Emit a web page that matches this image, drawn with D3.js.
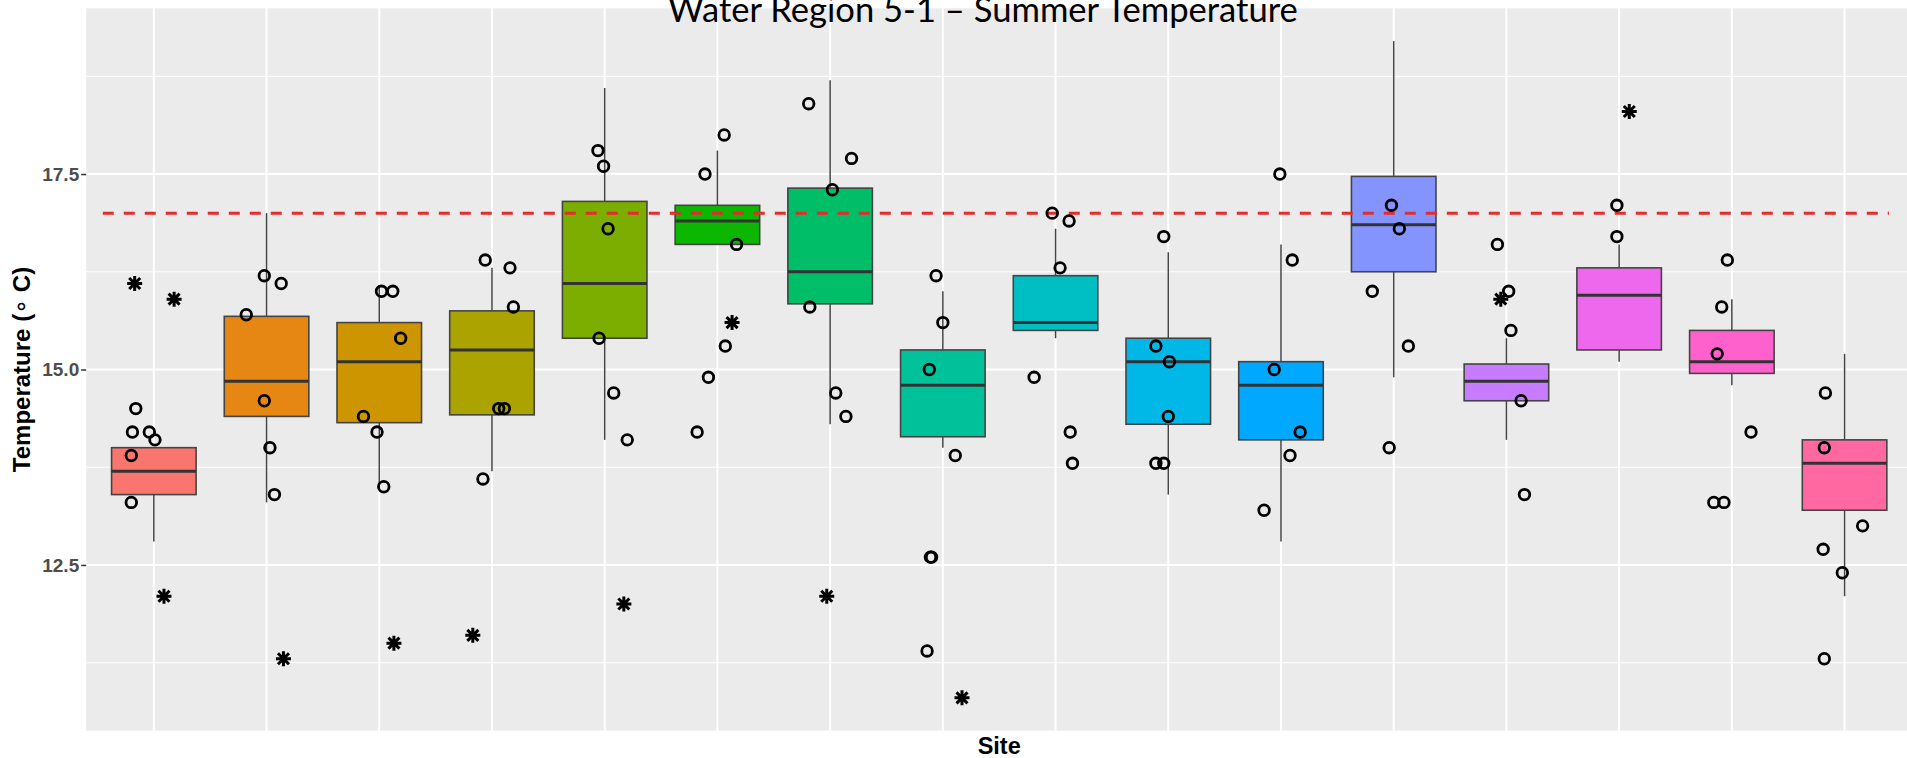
<!DOCTYPE html>
<html>
<head>
<meta charset="utf-8">
<script src="https://cdn.jsdelivr.net/npm/d3@7/dist/d3.min.js"></script>
<style>
  html, body { margin: 0; padding: 0; background: #ffffff; overflow: hidden; }
  svg { display: block; }
</style>
</head>
<body>
<svg id="chart" width="1907" height="758"></svg>
<script>
// ---- Data --------------------------------------------------------------
const sites = ["1", "2", "3", "4", "5", "6", "7", "8", "9", "10", "11", "12", "13", "14", "15", "16"];

// Box statistics per site (°C)
const whiskerLow  = [12.8, 13.3, 13.5, 13.7, 14.1, 16.6, 14.3, 14.0, 15.4, 13.4, 12.8, 14.9, 14.1, 15.1, 14.8, 12.1];
const lowerQuart  = [13.4, 14.4, 14.32, 14.42, 15.4, 16.6, 15.84, 14.14, 15.5, 14.3, 14.1, 16.25, 14.6, 15.25, 14.95, 13.2];
const medians     = [13.7, 14.85, 15.1, 15.25, 16.1, 16.9, 16.25, 14.8, 15.6, 15.1, 14.8, 16.85, 14.85, 15.95, 15.1, 13.8];
const upperQuart  = [14.0, 15.68, 15.6, 15.75, 17.15, 17.1, 17.32, 15.25, 16.2, 15.4, 15.1, 17.47, 15.07, 16.3, 15.5, 14.1];
const whiskerHigh = [14.0, 17.0, 16.08, 16.3, 18.6, 17.8, 18.7, 16.0, 16.8, 16.5, 16.6, 19.2, 15.4, 16.6, 15.9, 15.2];

// Individual yearly readings (open circles): site, value, jitter (in site units)
const obsSite = [
  "1","1","1","1","1","1",
  "2","2","2","2","2","2",
  "3","3","3","3","3","3",
  "4","4","4","4","4","4",
  "5","5","5","5","5","5",
  "6","6","6","6","6","6",
  "7","7","7","7","7","7",
  "8","8","8","8","8","8","8",
  "9","9","9","9","9","9",
  "10","10","10","10","10","10",
  "11","11","11","11","11","11",
  "12","12","12","12","12",
  "13","13","13","13","13",
  "14","14",
  "15","15","15","15","15","15",
  "16","16","16","16","16","16"
];
const obsValue = [
  14.5, 14.2, 14.2, 14.1, 13.9, 13.3,
  16.2, 16.1, 15.7, 14.6, 14.0, 13.4,
  16.0, 16.0, 15.4, 14.4, 14.2, 13.5,
  16.4, 16.3, 15.8, 14.5, 14.5, 13.6,
  17.8, 17.6, 16.8, 15.4, 14.7, 14.1,
  18.0, 17.5, 16.6, 15.3, 14.9, 14.2,
  18.4, 17.7, 17.3, 15.8, 14.7, 14.4,
  16.2, 15.6, 15.0, 13.9, 12.6, 12.6, 11.4,
  17.0, 16.9, 16.3, 14.9, 14.2, 13.8,
  16.7, 15.3, 15.1, 14.4, 13.8, 13.8,
  17.5, 16.4, 15.0, 14.2, 13.9, 13.2,
  17.1, 16.8, 16.0, 15.3, 14.0,
  16.6, 16.0, 15.5, 14.6, 13.4,
  17.1, 16.7,
  16.4, 15.8, 15.2, 14.2, 13.3, 13.3,
  14.7, 14.0, 13.0, 12.7, 12.4, 11.3
];
const obsJitter = [
  -0.16, -0.19, -0.04, 0.01, -0.20, -0.20,
  -0.02, 0.13, -0.18, -0.02, 0.03, 0.07,
  0.02, 0.12, 0.19, -0.14, -0.02, 0.04,
  -0.06, 0.16, 0.19, 0.06, 0.11, -0.08,
  -0.06, -0.01, 0.03, -0.05, 0.08, 0.20,
  0.06, -0.11, 0.17, 0.07, -0.08, -0.18,
  -0.19, 0.19, 0.02, -0.18, 0.05, 0.14,
  -0.06, 0.00, -0.12, 0.11, -0.11, -0.10, -0.14,
  -0.03, 0.12, 0.04, -0.19, 0.13, 0.15,
  -0.04, -0.11, 0.01, 0.00, -0.11, -0.04,
  -0.01, 0.10, -0.06, 0.17, 0.08, -0.15,
  -0.02, 0.05, -0.19, 0.13, -0.04,
  -0.08, 0.02, 0.04, 0.13, 0.16,
  -0.02, -0.02,
  -0.04, -0.09, -0.13, 0.17, -0.16, -0.07,
  -0.17, -0.18, 0.16, -0.19, -0.02, -0.18
];

// Current-year readings (asterisks)
const curSite   = ["1", "1", "1", "2", "3", "4", "5", "6", "7", "8", "13", "14"];
const curValue  = [16.1, 15.9, 12.1, 11.3, 11.5, 11.6, 12.0, 15.6, 12.1, 10.8, 15.9, 18.3];
const curJitter = [-0.17, 0.18, 0.09, 0.15, 0.13, -0.17, 0.17, 0.13, -0.03, 0.17, -0.05, 0.09];

// Temperature threshold (°C)
const threshold = 17.0;

// Axis ticks
const majorTicks = [12.5, 15.0, 17.5];
const minorTicks = [11.25, 13.75, 16.25, 18.75];

// Fill colours, one per site
const siteColors = ["#F8766D", "#E68613", "#CD9600", "#ABA300", "#7CAE00", "#0CB702", "#00BE67", "#00C19A",
                    "#00BFC4", "#00B8E7", "#00A9FF", "#8494FF", "#C77CFF", "#ED68ED", "#FF61CC", "#FF68A1"];

const titleText = "Water Region 5-1 \u2013 Summer Temperature";

// ---- Layout ------------------------------------------------------------
const panel = { left: 86.2, right: 1912.2, top: 8.3, bottom: 730.7 };

const svg = d3.select("#chart");

const x = d3.scalePoint().domain(sites).range([panel.left, panel.right]).padding(0.6);
const step = x.step();
const y = d3.scaleLinear().domain([10.38, 19.62]).range([panel.bottom, panel.top]);
const color = d3.scaleOrdinal().domain(sites).range(siteColors);

// Panel background
svg.append("rect")
  .attr("x", panel.left).attr("y", panel.top)
  .attr("width", panel.right - panel.left).attr("height", panel.bottom - panel.top)
  .attr("fill", "#EBEBEB");

const grid = svg.append("g");
grid.selectAll("line.minor").data(minorTicks).join("line")
  .attr("class", "minor")
  .attr("x1", panel.left).attr("x2", panel.right)
  .attr("y1", d => y(d)).attr("y2", d => y(d))
  .attr("stroke", "#ffffff").attr("stroke-width", 1);
grid.selectAll("line.majorY").data(majorTicks).join("line")
  .attr("class", "majorY")
  .attr("x1", panel.left).attr("x2", panel.right)
  .attr("y1", d => y(d)).attr("y2", d => y(d))
  .attr("stroke", "#ffffff").attr("stroke-width", 2);
grid.selectAll("line.majorX").data(sites).join("line")
  .attr("class", "majorX")
  .attr("x1", d => x(d)).attr("x2", d => x(d))
  .attr("y1", panel.top).attr("y2", panel.bottom)
  .attr("stroke", "#ffffff").attr("stroke-width", 2);

// ---- Box plots ---------------------------------------------------------
const boxData = sites.map((s, i) => ({
  site: s, lo: whiskerLow[i], q1: lowerQuart[i], med: medians[i], q3: upperQuart[i], hi: whiskerHigh[i]
}));
const boxW = step * 0.75;

const boxes = svg.append("g").selectAll("g").data(boxData).join("g");
boxes.append("line")
  .attr("x1", d => x(d.site)).attr("x2", d => x(d.site))
  .attr("y1", d => y(d.hi)).attr("y2", d => y(d.q3))
  .attr("stroke", "#444").attr("stroke-width", 1.5);
boxes.append("line")
  .attr("x1", d => x(d.site)).attr("x2", d => x(d.site))
  .attr("y1", d => y(d.q1)).attr("y2", d => y(d.lo))
  .attr("stroke", "#444").attr("stroke-width", 1.5);
boxes.append("rect")
  .attr("x", d => x(d.site) - boxW / 2).attr("width", boxW)
  .attr("y", d => y(d.q3)).attr("height", d => y(d.q1) - y(d.q3))
  .attr("fill", d => color(d.site))
  .attr("stroke", "#444").attr("stroke-width", 1.6);
boxes.append("line")
  .attr("x1", d => x(d.site) - boxW / 2).attr("x2", d => x(d.site) + boxW / 2)
  .attr("y1", d => y(d.med)).attr("y2", d => y(d.med))
  .attr("stroke", "#333").attr("stroke-width", 3);

// ---- Threshold line ----------------------------------------------------
svg.append("line")
  .attr("x1", x(sites[0]) - 0.453 * step)
  .attr("x2", x(sites[sites.length - 1]) + 0.394 * step)
  .attr("y1", y(threshold)).attr("y2", y(threshold))
  .attr("stroke", "#E52B2B").attr("stroke-width", 3)
  .attr("stroke-dasharray", "11,10");

// ---- Points ------------------------------------------------------------
const obs = obsValue.map((v, i) => ({ site: obsSite[i], v, j: obsJitter[i] }));
svg.append("g").selectAll("circle").data(obs).join("circle")
  .attr("cx", d => x(d.site) + d.j * step)
  .attr("cy", d => y(d.v))
  .attr("r", 5.3)
  .attr("fill", "none").attr("stroke", "#000").attr("stroke-width", 2.8);

const cur = curValue.map((v, i) => ({ site: curSite[i], v, j: curJitter[i] }));
const starPath = "M-7.5,0L7.5,0M0,-7.5L0,7.5M-5.5,-5.5L5.5,5.5M-5.5,5.5L5.5,-5.5";
svg.append("g").selectAll("path").data(cur).join("path")
  .attr("transform", d => `translate(${x(d.site) + d.j * step},${y(d.v)})`)
  .attr("d", starPath)
  .attr("fill", "none").attr("stroke", "#000").attr("stroke-width", 3)
  .attr("stroke-linecap", "butt");

// ---- Axes --------------------------------------------------------------
const yAxis = svg.append("g")
  .attr("transform", `translate(${panel.left},0)`)
  .call(d3.axisLeft(y).tickValues(majorTicks).tickFormat(d3.format(".1f")).tickSize(5).tickPadding(2));
yAxis.select(".domain").remove();
yAxis.selectAll(".tick line").attr("stroke", "#333").attr("stroke-width", 1.5);
yAxis.selectAll(".tick text")
  .attr("fill", "#4D4D4D")
  .style("font-family", "'Liberation Sans', Arial, sans-serif")
  .style("font-weight", "bold")
  .style("font-size", "19px");

// Axis titles
const yTitle = svg.append("text")
  .attr("transform", `translate(30,${(panel.top + panel.bottom) / 2}) rotate(-90)`)
  .attr("text-anchor", "middle")
  .style("font-family", "'Liberation Sans', Arial, sans-serif")
  .style("font-weight", "bold")
  .style("font-size", "24px")
  .attr("fill", "#000");
yTitle.append("tspan").text("Temperature (");
yTitle.append("tspan").text("\u2218").style("font-family", "'DejaVu Sans', sans-serif").style("font-weight", "normal").attr("dy", -1);
yTitle.append("tspan").text(" C)").attr("dy", 1);

svg.append("text")
  .attr("x", (panel.left + panel.right) / 2)
  .attr("y", 754)
  .attr("text-anchor", "middle")
  .style("font-family", "'Liberation Sans', Arial, sans-serif")
  .style("font-weight", "bold")
  .style("font-size", "23.5px")
  .attr("fill", "#000")
  .text("Site");

// Title
const title = svg.append("text")
  .attr("x", 983)
  .attr("y", 22)
  .attr("text-anchor", "middle")
  .style("font-family", "Lato, 'Open Sans', sans-serif")
  .style("font-size", "31px")
  .attr("fill", "#000")
  .text(titleText);
const tLen = title.node().getComputedTextLength();
title.style("font-size", (31 * 630 / tLen).toFixed(2) + "px");
</script>
</body>
</html>
